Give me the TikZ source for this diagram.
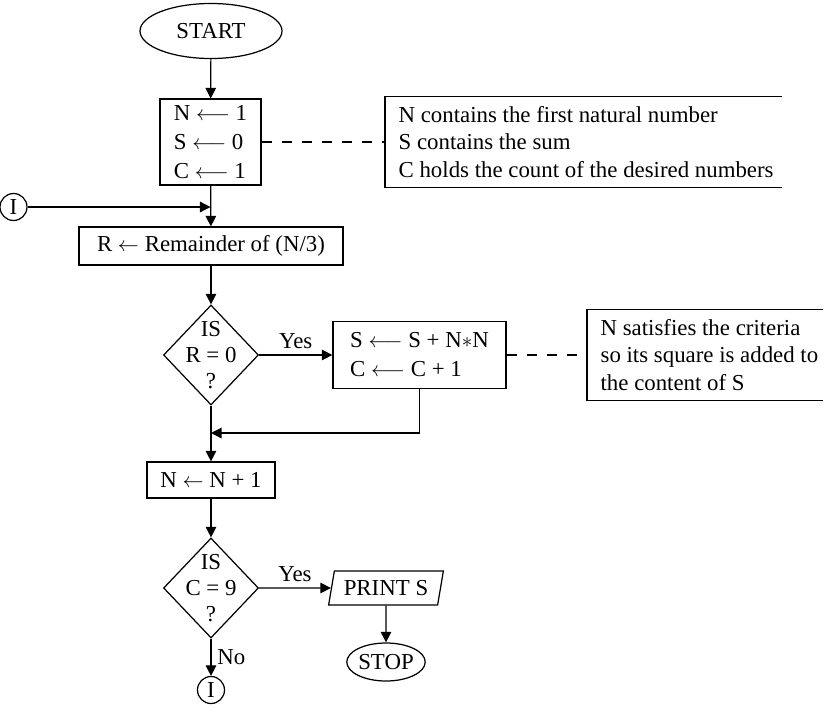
\documentclass[tikz,border=0pt]{standalone}
\usepackage{mathtools}
\usepackage{fontspec}
\setmainfont{Liberation Serif}
\usetikzlibrary{shapes.geometric,arrows.meta}

\begin{document}
\begin{tikzpicture}[font=\fontsize{13}{15}\selectfont, line width=0.7pt,
  >={Triangle[length=6pt,width=6pt]},
  box/.style={draw,rectangle,inner sep=0pt},
  term/.style={draw,ellipse,inner sep=0pt},
  decision/.style={draw,diamond,inner sep=0pt,minimum width=1.9cm,minimum height=2cm},
  io/.style={draw,trapezium,trapezium left angle=73,trapezium right angle=107,trapezium stretches=true,inner sep=0pt},
  conn/.style={draw,circle,inner sep=0pt,minimum size=0.54cm},
  note/.style={inner xsep=0.26cm,inner ysep=0pt,minimum height=1.8cm,align=left},
  remark/.style={dash pattern=on 5.7pt off 5.7pt}]
\useasboundingbox (0,0) rectangle (16.8,-14.4);

\node[term,minimum width=2.84cm,minimum height=1.1cm] (start) at (4.22,-0.62) {START};
\node[box,minimum width=2.02cm,minimum height=1.72cm,align=left,font=\fontsize{13}{16.5}\selectfont] (init) at (4.21,-2.84) {N $\longleftarrow$ 1\\S $\longleftarrow$ 0\\C $\longleftarrow$ 1};
\node[note,anchor=west,font=\fontsize{13}{15.5}\selectfont] (note1) at (7.70,-2.84) {N contains the first natural number\\S contains the sum\\C holds the count of the desired numbers};
\draw ([xshift=7.94cm]note1.north west) -- (note1.north west) -- (note1.south west) -- ++(7.94,0);

\node[conn] (i1) at (0.27,-4.14) {I};
\node[box,minimum width=5.28cm,minimum height=0.76cm] (rbox) at (4.22,-4.92) {R $\leftarrow$ Remainder of (N/3)};

\node[decision,label={[align=center]center:IS\\R = 0\\?}] (d1) at (4.22,-7.1) {};
\node[box,minimum width=3.46cm,minimum height=1.34cm,align=left,font=\fontsize{13}{16.5}\selectfont] (sbox) at (8.39,-7.1) {S $\longleftarrow$ S + N$\ast$N\\C $\longleftarrow$ C + 1};
\node[note,anchor=west,font=\fontsize{13}{15.5}\selectfont] (note2) at (11.74,-7.1) {N satisfies the criteria\\so its square is added to\\the content of S};
\draw ([xshift=4.72cm]note2.north west) -- (note2.north west) -- (note2.south west) -- ++(4.72,0);
\coordinate (j2) at (4.22,-8.66);

\node[box,minimum width=2.56cm,minimum height=0.72cm] (nbox) at (4.22,-9.6) {N $\leftarrow$ N + 1};
\node[decision,label={[align=center]center:IS\\C = 9\\?}] (d2) at (4.22,-11.76) {};
\node[io,minimum width=2.3cm,minimum height=0.68cm] (print) at (7.72,-11.76) {PRINT S};
\node[term,minimum width=1.56cm,minimum height=0.76cm] (stop) at (7.72,-13.24) {STOP};
\node[conn] (i2) at (4.22,-13.8) {I};

% flow
\draw[->] (start) -- (init);
\draw[->] (init) -- (rbox);
\draw[->] (i1) -- (i1 -| init.south);
\draw[remark] (init) -- (note1);
\draw[->] (rbox) -- (d1);
\draw[->] (d1) -- node[above]{Yes} (sbox);
\draw[remark] (sbox) -- (note2);
\draw[->] (sbox.south) |- (j2);
\draw[->] (d1) -- (nbox);
\draw[->] (nbox) -- (d2);
\draw[->] (d2) -- node[above]{Yes} (print);
\draw[->] (print) -- (stop);
\draw[->] (d2) -- node[right]{No} (i2);

\end{tikzpicture}
\end{document}
